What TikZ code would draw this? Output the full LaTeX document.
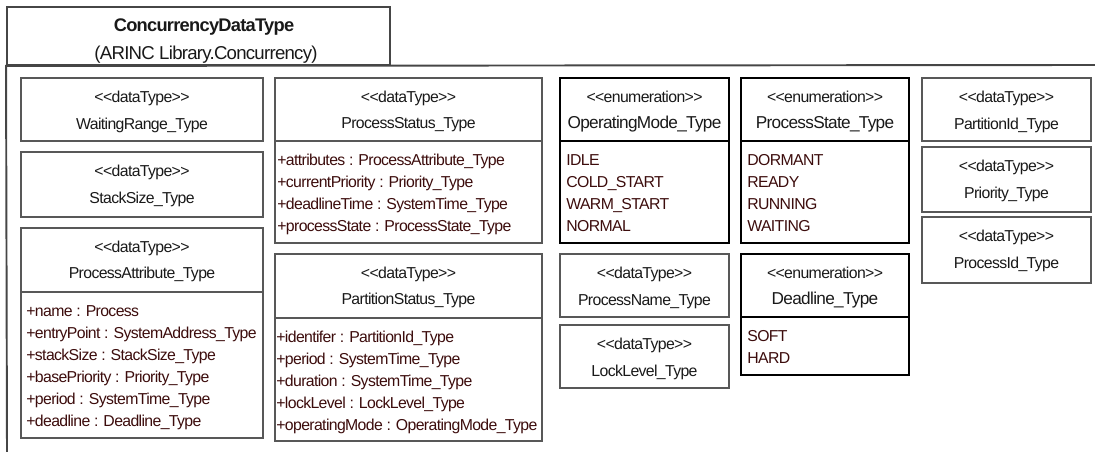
\documentclass[tikz,border=0pt]{standalone}
\usepackage{fontspec}
\setmainfont{Liberation Sans}[LetterSpace=-4]
\usetikzlibrary{positioning, fit}

\definecolor{framegray}{RGB}{70,70,70}
\definecolor{boxgray}{RGB}{88,88,88}
\definecolor{attrbrown}{RGB}{60,12,12}
\newcommand{\umlst}[1]{<{}<#1>{}>}

\tikzset{
  pkgline/.style={draw=framegray, line width=1.1pt},
  dtbox/.style={draw=boxgray, line width=1.1pt, inner sep=0pt},
  enbox/.style={draw=black, line width=1.1pt, inner sep=0pt},
  sttext/.style={inner sep=0pt, text=black!90, text height=1.6ex, text depth=.3ex,
                 font=\fontsize{9}{11}\selectfont},
  nmtext/.style={sttext},
  ennmtext/.style={sttext, font=\fontsize{9.8}{12}\selectfont},
  attrtext/.style={inner sep=0pt, anchor=west, text=attrbrown, text height=1.6ex,
                   text depth=.3ex, font=\fontsize{9}{11}\selectfont},
  pkgtext/.style={inner sep=0pt, text=black!90, text height=1.6ex, text depth=.3ex,
                  font=\fontsize{10.6}{12}\selectfont}
}

\begin{document}
\begin{tikzpicture}[x=0.02cm, y=-0.02cm]
  \useasboundingbox (0,0) rectangle (1095,452);

  % package frame
  \node[pkgline, inner sep=0pt, fit={(7,7) (390,65)}] (tab) {};
  \node[pkgtext, font=\bfseries\fontsize{10.4}{12}\selectfont] (pkgname) at (204,25) {ConcurrencyDataType};
  \node[pkgtext] (pkgpath) at (206,53) {(ARINC Library.Concurrency)};
  \coordinate (bodyR) at (1095,65);
  \coordinate (bodyB) at (7,452);
  \draw[pkgline] (bodyR) -- (tab.south west) -- (bodyB);

  % plain data types
  \foreach \nm/\xa/\ya/\xb/\yb/\ttl in {
      waiting/21/78/263/141/WaitingRange\_Type,
      stack/21/152/263/217/StackSize\_Type,
      procname/560/254/729/317/ProcessName\_Type,
      locklvl/560/325/729/388/LockLevel\_Type,
      partid/922/78/1091/141/PartitionId\_Type,
      prio/922/147/1091/212/Priority\_Type,
      procid/922/217/1091/283/ProcessId\_Type} {
    \node[dtbox, fit={(\xa,\ya) (\xb,\yb)}] (\nm) {};
    \node[sttext] (\nm-st) at ({(\xa+\xb)/2}, \ya+18) {\umlst{dataType}};
    \node[nmtext] (\nm-nm) at ({(\xa+\xb)/2}, \ya+45) {\ttl};
  }

  % data types with attributes
  \foreach \nm/\xa/\ya/\xb/\yb/\yd/\tx/\ttl/\attrs in {
      procattr/21/228/263/438/292/26/ProcessAttribute\_Type/{+name : Process,
        +entryPoint : SystemAddress\_Type, +stackSize : StackSize\_Type,
        +basePriority : Priority\_Type, +period : SystemTime\_Type,
        +deadline : Deadline\_Type},
      procstat/275/78/542/243/141/277/ProcessStatus\_Type/{+attributes : ProcessAttribute\_Type,
        +currentPriority : Priority\_Type, +deadlineTime : SystemTime\_Type,
        +processState : ProcessState\_Type},
      partstat/275/254/542/441/318/276/PartitionStatus\_Type/{+identifer : PartitionId\_Type,
        +period : SystemTime\_Type, +duration : SystemTime\_Type,
        +lockLevel : LockLevel\_Type, +operatingMode : OperatingMode\_Type}} {
    \node[dtbox, fit={(\xa,\ya) (\xb,\yb)}] (\nm) {};
    \node[sttext] (\nm-st) at ({(\xa+\xb)/2}, \ya+18) {\umlst{dataType}};
    \node[nmtext] (\nm-nm) at ({(\xa+\xb)/2}, \ya+44) {\ttl};
    \coordinate (\nm-div) at (\xa,\yd);
    \draw[boxgray, line width=1.1pt] (\nm-div) -- (\nm-div -| \nm.east);
    \foreach \a [count=\i] in \attrs
      \node[attrtext] (\nm-a\i) at (\tx, \yd-4+22*\i) {\a};
  }

  % enumerations
  \foreach \nm/\xa/\ya/\xb/\yb/\yd/\tx/\ttl/\lits in {
      opmode/560/78/729/243/141/566/OperatingMode\_Type/{IDLE, COLD\_START, WARM\_START, NORMAL},
      procstate/741/78/909/243/141/747/ProcessState\_Type/{DORMANT, READY, RUNNING, WAITING},
      deadline/741/254/909/375/317/747/Deadline\_Type/{SOFT, HARD}} {
    \node[enbox, fit={(\xa,\ya) (\xb,\yb)}] (\nm) {};
    \node[sttext] (\nm-st) at ({(\xa+\xb)/2}, \ya+18) {\umlst{enumeration}};
    \node[ennmtext] (\nm-nm) at ({(\xa+\xb)/2}, \ya+44) {\ttl};
    \coordinate (\nm-div) at (\xa,\yd);
    \draw[black, line width=1.1pt] (\nm-div) -- (\nm-div -| \nm.east);
    \foreach \a [count=\i] in \lits
      \node[attrtext] (\nm-l\i) at (\tx, \yd-4+22*\i) {\a};
  }
\end{tikzpicture}
\end{document}
